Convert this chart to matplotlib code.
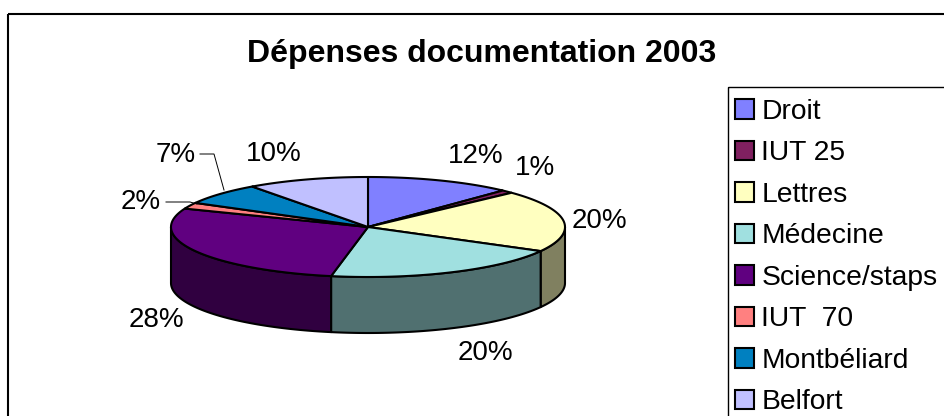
import numpy as np
import matplotlib
matplotlib.use("Agg")
import matplotlib.pyplot as plt
from matplotlib.patches import Patch, Rectangle

plt.rcParams['font.family'] = ['Liberation Sans', 'DejaVu Sans']

title = "Dépenses documentation 2003"
categories = ["Droit", "IUT 25", "Lettres", "Médecine", "Science/staps", "IUT  70", "Montbéliard", "Belfort"]
values = [12, 1, 20, 20, 28, 2, 7, 10]
colors = ["#8080FF", "#802060", "#FFFFC0", "#A0E0E0", "#600080", "#FF8080", "#0080C0", "#C0C0FF"]
side_colors = ["#404080", "#401030", "#808060", "#507070", "#300040", "#804040", "#004060", "#606080"]
label_pos = [(476, 156), (535, 168), (599, 221), (485, 353), (156, 320), (141, 202), (176, 155), (274, 154)]

cx, cy, rx, ry, depth = 368, 227, 197, 50, 56

fig = plt.figure(figsize=(9.44, 4.16), dpi=100)
ax = fig.add_axes([0, 0, 1, 1])
ax.set_xlim(0, 944)
ax.set_ylim(416, 0)
ax.axis("off")


def rim(a0, a1, n=100):
    t = np.radians(np.linspace(a0, a1, n))
    return cx + rx * np.sin(t), cy - ry * np.cos(t)


lw = 1.5
edges = np.concatenate([[0], np.cumsum(values)]) / sum(values) * 360

# side walls (front half only)
for i in range(len(values)):
    a0, a1 = max(edges[i], 90), min(edges[i + 1], 270)
    if a1 <= a0:
        continue
    x, y = rim(a0, a1)
    ax.fill(np.r_[x, x[::-1]], np.r_[y, y[::-1] + depth],
            facecolor=side_colors[i], edgecolor="black", lw=lw, joinstyle="round")

# top faces
for i in range(len(values)):
    x, y = rim(edges[i], edges[i + 1])
    ax.fill(np.r_[cx, x], np.r_[cy, y], facecolor=colors[i], edgecolor="black", lw=lw, joinstyle="round")

# value labels
for v, (lx, ly) in zip(values, label_pos):
    ax.text(lx, ly, f"{v}%", ha="center", va="center", fontsize=20, color="black")

# leader lines
ax.plot([200, 214, 224], [154, 154, 190], color="black", lw=0.7)
ax.plot([166, 190, 197], [202, 202, 204], color="black", lw=0.7)

ax.text(482, 54, title, ha="center", va="center", fontsize=23, fontweight="bold", color="black")

# chart frame
ax.add_patch(Rectangle((8, 14), 1000, 500, fill=False, edgecolor="black", lw=1.5, clip_on=True))

# legend frame runs past the picture's right and bottom edges
ax.add_patch(Rectangle((728, 87), 400, 500, fill=False, edgecolor="black", lw=1.0, clip_on=True))

# legend
handles = [Patch(facecolor=c, edgecolor="black", lw=1.5) for c in colors]
leg = ax.legend(handles, categories, loc="upper left", bbox_to_anchor=(723.5, 87),
                bbox_transform=ax.transData, fontsize=20.3, frameon=False,
                handlelength=0.67, handleheight=0.67,
                handletextpad=0.25, labelspacing=0.55, borderpad=0.42, borderaxespad=0)
leg.set_clip_on(False)

fig.savefig("out.png", dpi=100)
